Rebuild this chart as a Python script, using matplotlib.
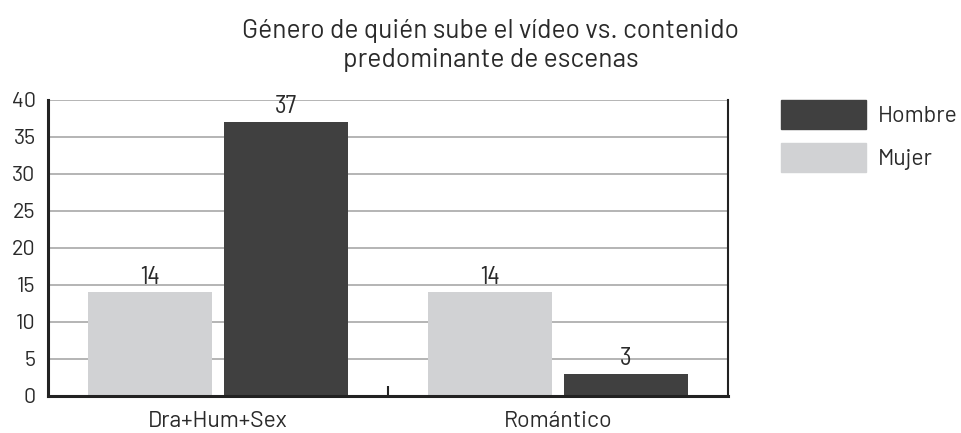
import matplotlib
matplotlib.use('AGG')
import matplotlib.pyplot as plt
import matplotlib.patches as mpatches
import numpy as np

plt.rcParams['font.family'] = ['Barlow', 'DejaVu Sans']
cond = ['Barlow Semi Condensed', 'DejaVu Sans']

categories = ['Dra+Hum+Sex', 'Romántico']
mujer = [14, 14]
hombre = [37, 3]
series_names = ['Hombre', 'Mujer']
title = 'Género de quién sube el vídeo vs. contenido\npredominante de escenas'

dark = '#404040'
light = '#d1d2d4'
txt = '#2a2a2a'

fig = plt.figure(figsize=(9.62, 4.33), dpi=100)
ax = fig.add_axes([0.0499, 0.0855, 0.7069, 0.6836])

x = np.arange(len(categories))
w = 0.362
b1 = ax.bar(x - 0.2, mujer, w, color=light, zorder=3)
b2 = ax.bar(x + 0.2, hombre, w, color=dark, zorder=3)
for bars, vals in ((b1, mujer), (b2, hombre)):
    for r, v in zip(bars, vals):
        ax.text(r.get_x() + r.get_width() / 2, v + 0.5, str(v), ha='center', va='bottom',
                fontsize=18, color=txt, family=cond)

ax.set_xlim(-0.5, 1.5)
ax.set_ylim(0, 40)
ax.set_yticks(np.arange(0, 41, 5))
ax.set_xticks(x)
ax.set_xticklabels(categories)
ax.set_xticks([0.5], minor=True)
ax.tick_params(axis='x', which='major', length=0, labelsize=16.5, colors=txt, pad=11)
ax.tick_params(axis='x', which='minor', direction='in', length=7, width=1.5, color='#222222')
ax.tick_params(axis='y', length=0, labelsize=15.5, colors=txt, pad=9)
ax.grid(axis='y', color='#a8a8a8', lw=1.2, zorder=0)

ax.spines['left'].set_linewidth(2.2)
ax.spines['left'].set_color('#222222')
ax.spines['bottom'].set_linewidth(2.2)
ax.spines['bottom'].set_color('#222222')
ax.spines['right'].set_linewidth(1.5)
ax.spines['right'].set_color('#222222')
ax.spines['top'].set_visible(False)
for s in ax.spines.values():
    s.set_zorder(4)

fig.text(0.51, 0.956, title, ha='center', va='top', fontsize=19, color=txt,
         linespacing=1.28)

handles = [mpatches.Patch(color=dark, label=series_names[0]),
           mpatches.Patch(color=light, label=series_names[1])]
fig.legend(handles=handles, loc='upper left', bbox_to_anchor=(0.812, 0.769),
           frameon=False, fontsize=16.5, handlelength=3.71, handleheight=1.57,
           labelspacing=0.61, handletextpad=0.52, borderaxespad=0, borderpad=0,
           labelcolor=txt)

fig.savefig('out.png', dpi=100)
